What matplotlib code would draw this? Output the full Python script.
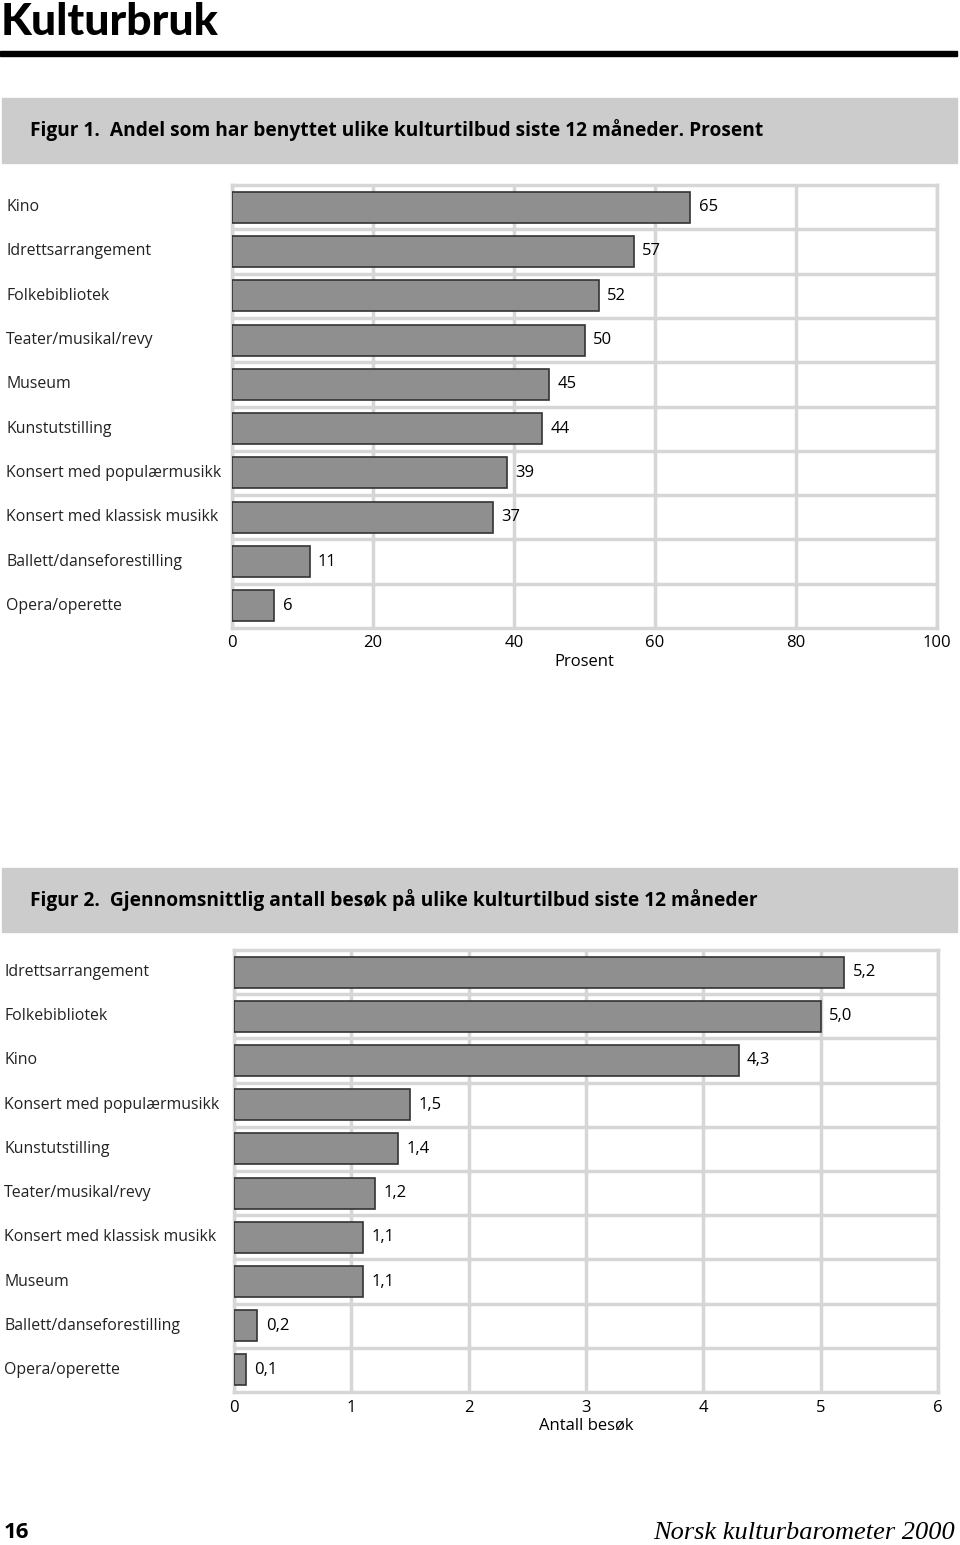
import matplotlib
matplotlib.use("Agg")
from matplotlib import pyplot, transforms
from matplotlib.patches import Rectangle

# data, top to bottom
cats1 = ["Kino", "Idrettsarrangement", "Folkebibliotek", "Teater/musikal/revy",
         "Museum", "Kunstutstilling", "Konsert med populærmusikk",
         "Konsert med klassisk musikk", "Ballett/danseforestilling", "Opera/operette"]
vals1 = [65, 57, 52, 50, 45, 44, 39, 37, 11, 6]
ticks1 = [0, 20, 40, 60, 80, 100]

cats2 = ["Idrettsarrangement", "Folkebibliotek", "Kino", "Konsert med populærmusikk",
         "Kunstutstilling", "Teater/musikal/revy", "Konsert med klassisk musikk",
         "Museum", "Ballett/danseforestilling", "Opera/operette"]
vals2 = [5.2, 5.0, 4.3, 1.5, 1.4, 1.2, 1.1, 1.1, 0.2, 0.1]
ticks2 = [0, 1, 2, 3, 4, 5, 6]

W, H = 960, 1545
pyplot.rcParams["font.family"] = ["Open Sans", "DejaVu Sans"]
figure = pyplot.figure(figsize=(W / 100, H / 100), dpi=100)


def fx(px):
    return px / W


def fy(py):
    return 1 - py / H


GRID = "#d6d6d6"


def bar_chart(rect, cats, vals, ticks, xlabel, fmt, label_x, tickpad, labelpad):
    axis = figure.add_axes(rect)
    n = len(cats)
    ypos = list(range(n))
    axis.barh(ypos, vals, height=0.7, color="#8f8f8f", edgecolor="#333333",
              linewidth=1.2, zorder=3)
    axis.set_ylim(n - 0.5, -0.5)
    axis.set_xlim(ticks[0], ticks[-1])
    axis.set_xticks(ticks)
    axis.set_xticklabels([str(t) for t in ticks], fontsize=12)
    axis.set_yticks([y + 0.5 for y in ypos[:-1]])
    axis.set_yticklabels([])
    axis.tick_params(length=0, pad=tickpad)
    axis.grid(True, color=GRID, linewidth=2.5, zorder=0)
    for s in axis.spines.values():
        s.set_color(GRID)
        s.set_linewidth(2.5)
    axis.set_xlabel(xlabel, fontsize=12, labelpad=labelpad)
    for y, v in zip(ypos, vals):
        axis.annotate(fmt(v), (v, y), xytext=(6, 0), textcoords="offset points",
                      va="center", ha="left", fontsize=12)
    trans = transforms.blended_transform_factory(figure.transFigure, axis.transData)
    for y, c in zip(ypos, cats):
        axis.text(fx(label_x), y, c, transform=trans, ha="left", va="center",
                  fontsize=11.4, color="#222222")
    return axis


# page title and rule
figure.text(fx(1), fy(35), "Kulturbruk", fontsize=32, fontweight="black",
            family=["Lato", "DejaVu Sans"], va="baseline")
figure.add_artist(Rectangle((fx(0), fy(56)), fx(957), 5 / H, color="black",
                            transform=figure.transFigure))

# figure 1
figure.add_artist(Rectangle((fx(2), fy(163)), fx(955), 65 / H, color="#cccccc",
                            transform=figure.transFigure, zorder=0))
figure.text(fx(30), fy(130), "Figur 1.  Andel som har benyttet ulike kulturtilbud siste 12 måneder. Prosent",
            fontsize=13.8, fontweight="bold", va="center")
bar_chart([fx(232), fy(628), fx(705), 443 / H], cats1, vals1, ticks1, "Prosent",
          lambda v: str(v), 6, 5, 2)

# figure 2
figure.add_artist(Rectangle((fx(2), fy(932)), fx(955), 64 / H, color="#cccccc",
                            transform=figure.transFigure, zorder=0))
figure.text(fx(30), fy(900), "Figur 2.  Gjennomsnittlig antall besøk på ulike kulturtilbud siste 12 måneder",
            fontsize=13.8, fontweight="bold", va="center")
bar_chart([fx(234), fy(1392), fx(704), 442 / H], cats2, vals2, ticks2, "Antall besøk",
          lambda v: f"{v:.1f}".replace(".", ","), 4, 6, 1)

# footer
figure.text(fx(4), fy(1533), "16", fontsize=16, fontweight="bold", va="center")
figure.text(fx(955), fy(1533), "Norsk kulturbarometer 2000", fontsize=19,
            style="italic", family=["Liberation Serif", "DejaVu Serif"],
            ha="right", va="center")

pyplot.savefig("out.png", dpi=100)
